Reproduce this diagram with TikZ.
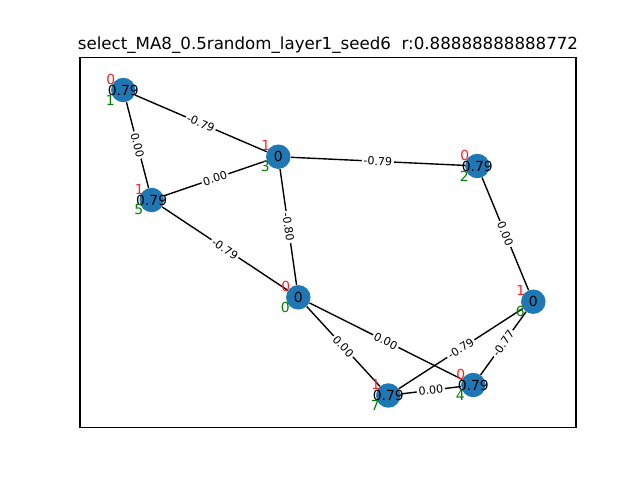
\documentclass[tikz,border=0pt]{standalone}
\usepackage{fontspec}
\setmainfont{DejaVu Sans}
\definecolor{nodeblue}{HTML}{1F77B4}
\definecolor{tagred}{HTML}{FF2020}
\definecolor{taggreen}{HTML}{008000}
\pgfdeclarelayer{bg}
\pgfsetlayers{bg,main}
\begin{document}
\begin{tikzpicture}[x=0.72pt,y=-0.72pt,
  vtx/.style={circle, fill=nodeblue, minimum size=17.6pt, inner sep=0pt},
  vlabel/.style={font=\fontsize{10}{12}\selectfont, text=black, inner sep=0pt},
  redtag/.style={font=\fontsize{10}{12}\selectfont, text=tagred, inner sep=0pt},
  greentag/.style={font=\fontsize{10}{12}\selectfont, text=taggreen, inner sep=0pt},
  elabel/.style={font=\fontsize{8}{9}\selectfont, fill=white, inner sep=1.2pt, rounded corners=2pt, sloped, midway},
  edge/.style={draw=black, line width=1pt}
]
\useasboundingbox (0,0) rectangle (640,480);
\draw[line width=0.8pt] (80,57.6) rectangle (576,427.2);
\node[anchor=base, font=\fontsize{12}{14}\selectfont, inner sep=0pt] (title) at (328,49.3) {select\_MA8\_0.5random\_layer1\_seed6\ \ r:0.88888888888772};

% vertices
\node[vtx, label={[vlabel]center:0.79}] (v1) at (123.3,90) {};
\node[vtx, label={[vlabel]center:0}]    (v3) at (278.3,156.7) {};
\node[vtx, label={[vlabel]center:0.79}] (v2) at (477.3,166) {};
\node[vtx, label={[vlabel]center:0.79}] (v5) at (151.7,200) {};
\node[vtx, label={[vlabel]center:0}]    (v0) at (298.3,297.3) {};
\node[vtx, label={[vlabel]center:0}]    (v6) at (533.3,301.7) {};
\node[vtx, label={[vlabel]center:0.79}] (v4) at (473.3,385) {};
\node[vtx, label={[vlabel]center:0.79}] (v7) at (388.3,395.5) {};

% edges
\begin{pgfonlayer}{bg}
\draw[edge] (v1) -- (v3);
\draw[edge] (v1) -- (v5);
\draw[edge] (v3) -- (v5);
\draw[edge] (v3) -- (v2);
\draw[edge] (v3) -- (v0);
\draw[edge] (v5) -- (v0);
\draw[edge] (v2) -- (v6);
\draw[edge] (v0) -- (v7);
\draw[edge] (v0) -- (v4);
\draw[edge] (v7) -- (v6);
\draw[edge] (v7) -- (v4);
\draw[edge] (v4) -- (v6);
\end{pgfonlayer}

% edge labels
\path (v1) -- node[elabel] (e13) {-0.79} (v3);
\path (v1) -- node[elabel] (e15) {0.00} (v5);
\path (v3) -- node[elabel] (e35) {0.00} (v5);
\path (v3) -- node[elabel] (e32) {-0.79} (v2);
\path (v3) -- node[elabel] (e30) {-0.80} (v0);
\path (v5) -- node[elabel] (e50) {-0.79} (v0);
\path (v2) -- node[elabel] (e26) {0.00} (v6);
\path (v0) -- node[elabel] (e07) {0.00} (v7);
\path (v0) -- node[elabel] (e04) {0.00} (v4);
\path (v7) -- node[elabel] (e76) {-0.79} (v6);
\path (v7) -- node[elabel] (e74) {0.00} (v4);
\path (v4) -- node[elabel] (e46) {-0.77} (v6);

% tags
\node[redtag] (r1) at ([shift={(-12.5,-11)}]v1) {0};
\node[greentag] (g1) at ([shift={(-13,10)}]v1) {1};
\node[redtag] (r3) at ([shift={(-12.5,-11)}]v3) {1};
\node[greentag] (g3) at ([shift={(-13,10)}]v3) {3};
\node[redtag] (r2) at ([shift={(-12.5,-11)}]v2) {0};
\node[greentag] (g2) at ([shift={(-13,10)}]v2) {2};
\node[redtag] (r5) at ([shift={(-12.5,-11)}]v5) {1};
\node[greentag] (g5) at ([shift={(-13,10)}]v5) {5};
\node[redtag] (r0) at ([shift={(-12.5,-11)}]v0) {0};
\node[greentag] (g0) at ([shift={(-13,10)}]v0) {0};
\node[redtag] (r6) at ([shift={(-12.5,-11)}]v6) {1};
\node[greentag] (g6) at ([shift={(-13,10)}]v6) {6};
\node[redtag] (r4) at ([shift={(-12.5,-11)}]v4) {0};
\node[greentag] (g4) at ([shift={(-13,10)}]v4) {4};
\node[redtag] (r7) at ([shift={(-12.5,-11)}]v7) {1};
\node[greentag] (g7) at ([shift={(-13,10)}]v7) {7};
\end{tikzpicture}
\end{document}
